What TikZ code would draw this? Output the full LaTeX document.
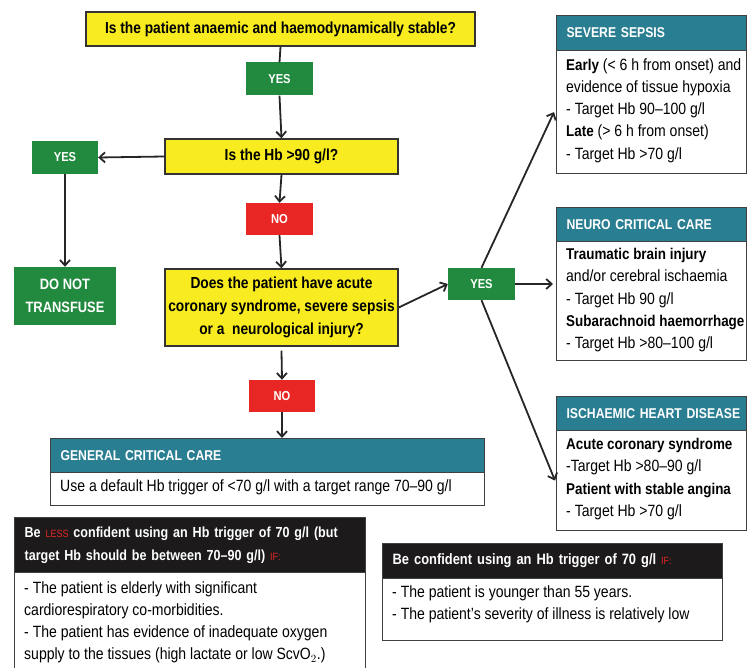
\documentclass[tikz,border=0pt]{standalone}
\usepackage{fontspec}
\setmainfont{Liberation Sans}[FakeStretch=0.86]
\usetikzlibrary{arrows.meta}
\definecolor{qyellow}{RGB}{248,236,32}
\definecolor{tgreen}{RGB}{33,138,62}
\definecolor{tred}{RGB}{232,38,36}
\definecolor{tteal}{RGB}{42,126,146}
\definecolor{tdark}{RGB}{28,26,26}
\newcommand\qfont{\fontsize{16}{23}\selectfont\bfseries}
\newcommand\tagfont{\fontsize{13}{15}\selectfont\bfseries}
\newcommand\hfont{\fontsize{14.2}{16}\selectfont\bfseries}
\newcommand\bfont{\fontsize{16.3}{22.3}\selectfont}
\newcommand\dhfont{\fontsize{14.6}{23}\selectfont\bfseries}
\newcommand\bodybold[1]{{\fontsize{15.6}{22.3}\selectfont\bfseries #1}}
\begin{document}
\begin{tikzpicture}[x=1pt,y=-1pt,
  question/.style={draw=black!80, line width=1.4pt, fill=qyellow, font=\qfont, align=center, inner sep=0pt},
  tagbox/.style={text=white, font=\tagfont, minimum width=67pt, minimum height=33pt, inner sep=0pt},
  yestag/.style={tagbox, fill=tgreen},
  notag/.style={tagbox, fill=tred},
  panel/.style={draw=black!75, line width=1.2pt, fill=white, anchor=north west, inner sep=0pt},
  tealhead/.style={panel, fill=tteal, text=white, font=\hfont, align=left, inner xsep=10pt, inner ysep=0pt},
  darkhead/.style={panel, fill=tdark, text=white, font=\dhfont, align=left, inner xsep=10pt, inner ysep=0pt},
  bodytext/.style={anchor=north west, align=left, inner sep=0pt, font=\bfont},
  plainline/.style={line width=1.8pt, black!85},
  conn/.style={plainline, -{Straight Barb[length=5.5pt,width=10pt]}}
]
\useasboundingbox (0,0) rectangle (748,668);

% questions
\node[question, minimum width=389pt, minimum height=34pt] (q1) at (280.5,29) {Is the patient anaemic and haemodynamically stable?};
\node[question, minimum width=233pt, minimum height=35pt] (q2) at (281.5,156.5) {Is the Hb >90 g/l?};
\node[question, minimum width=233pt, minimum height=77pt] (q3) at (281.5,307.5) {Does the patient have acute\\coronary syndrome, severe sepsis\\or a \ neurological injury?};

% tags
\node[yestag] (yes1) at (279.5,79) {YES};
\node[yestag, minimum width=66pt] (yesL) at (65,157.5) {YES};
\node[yestag, minimum width=102pt, minimum height=58pt, font=\fontsize{15}{23}\selectfont\bfseries, align=center] (dnt) at (65,296) {DO NOT\\TRANSFUSE};
\node[notag, minimum height=32pt] (no1) at (279.5,219) {NO};
\node[notag, minimum width=66pt, minimum height=32pt] (no2) at (282,396) {NO};
\node[yestag, minimum height=32pt] (yesR) at (481.5,284) {YES};

% general critical care
\node[tealhead, text width=414pt, minimum height=34pt] (genH) at (50,438) {GENERAL CRITICAL CARE};
\node[panel, minimum width=434pt, minimum height=33pt] (genB) at (50,472) {};
\node[bodytext] (genT) at (60,479) {Use a default Hb trigger of <70 g/l with a target range 70--90 g/l};

% severe sepsis
\node[tealhead, text width=170pt, minimum height=35pt] (sepH) at (556,15) {\mbox{SEVERE SEPSIS}};
\node[panel, minimum width=190pt, minimum height=123pt] (sepB) at (556,50) {};
\node[bodytext] (sepT) at (566,58) {\bodybold{Early} (< 6 h from onset) and\\evidence of tissue hypoxia\\- Target Hb 90--100 g/l\\\bodybold{Late} (> 6 h from onset)\\- Target Hb >70 g/l};

% neuro critical care
\node[tealhead, text width=170pt, minimum height=34pt] (neuH) at (556,207) {\mbox{NEURO CRITICAL CARE}};
\node[panel, minimum width=190pt, minimum height=119pt] (neuB) at (556,241) {};
\node[bodytext] (neuT) at (566,248) {\bodybold{Traumatic brain injury}\\and/or cerebral ischaemia\\- Target Hb 90 g/l\\\bodybold{Subarachnoid haemorrhage}\\- Target Hb >80--100 g/l};

% ischaemic heart disease
\node[tealhead, text width=170pt, minimum height=34pt] (ischH) at (556,396) {\mbox{ISCHAEMIC HEART DISEASE}};
\node[panel, minimum width=190pt, minimum height=100pt] (ischB) at (556,430) {};
\node[bodytext] (ischT) at (566,438) {\bodybold{Acute coronary syndrome}\\-Target Hb >80--90 g/l\\\bodybold{Patient with stable angina}\\- Target Hb >70 g/l};

% less confident
\node[darkhead, text width=331pt, minimum height=55pt] (lessH) at (14,517) {Be {\color{tred}\fontsize{10.5}{12}\selectfont\mdseries LESS} confident using an Hb trigger of 70 g/l (but\\target Hb should be between 70--90 g/l) {\color{tred}\fontsize{10.5}{12}\selectfont\mdseries IF:}};
\node[panel, minimum width=351pt, minimum height=110pt] (lessB) at (14,572) {};
\node[bodytext] (lessT) at (24,581) {- The patient is elderly with significant\\cardiorespiratory co-morbidities.\\- The patient has evidence of inadequate oxygen\\supply to the tissues (high lactate or low ScvO$_2$.)};

% confident
\node[darkhead, text width=320pt, minimum height=35pt, font=\fontsize{15}{23}\selectfont\bfseries] (confH) at (382,543) {Be confident using an Hb trigger of 70 g/l {\color{tred}\fontsize{10.5}{12}\selectfont\mdseries IF:}};
\node[panel, minimum width=340pt, minimum height=62pt] (confB) at (382,578) {};
\node[bodytext] (confT) at (392,585) {- The patient is younger than 55 years.\\- The patient's severity of illness is relatively low};

% connectors
\draw[plainline] (q1.south) -- (yes1.north);
\draw[conn] (yes1.south) -- (q2.north);
\draw[conn] (q2.west) -- (yesL.east);
\draw[conn] (yesL.south) -- (dnt.north);
\draw[conn] (q2.south) -- (no1.north);
\draw[conn] (no1.south) -- (q3.north);
\draw[conn] ([yshift=-4pt]q3.south) -- (no2.north);
\draw[conn] (no2.south) -- (no2.south |- genH.north);
\draw[conn] (q3.east) -- (yesR.west);
\draw[conn] (yesR.north) -- ([xshift=-2pt]sepB.west);
\draw[conn] (yesR.east) -- ([xshift=-3pt]yesR.east -| neuB.west);
\draw[conn] (yesR.south) -- ([xshift=-1pt]ischB.west);
\end{tikzpicture}
\end{document}
